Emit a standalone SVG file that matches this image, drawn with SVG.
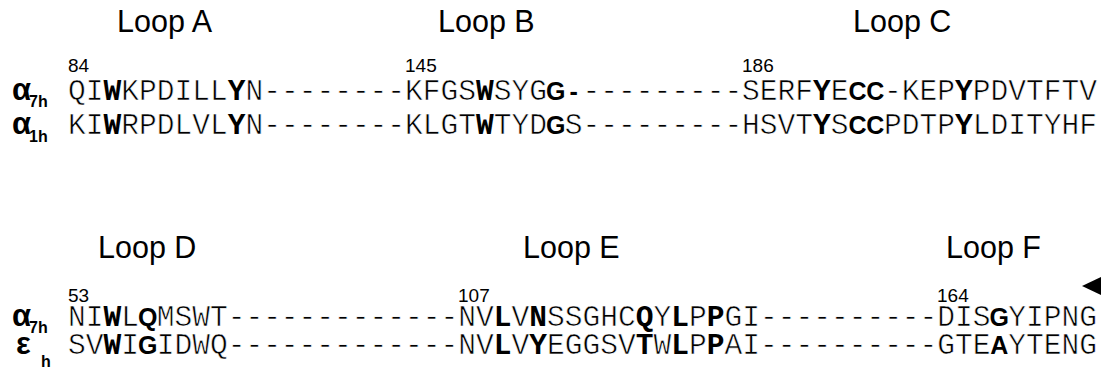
<svg xmlns="http://www.w3.org/2000/svg" width="1108" height="371" viewBox="0 0 1108 371">
<style>
.title{font-family:"Liberation Sans",Arial,sans-serif;font-size:30.5px;fill:#000}
.num{font-family:"Liberation Sans",Arial,sans-serif;font-size:19px;fill:#000}
.seq{font-family:"Liberation Mono","Courier New",monospace;font-size:29.57px;fill:#000;stroke:#fff;stroke-width:0.6px}
.b{font-weight:bold;stroke:none}
.bs{font-family:"Liberation Sans",Arial,sans-serif;font-size:25px;font-weight:bold;fill:#000;text-anchor:middle}
.gr{font-family:"Liberation Sans",Arial,sans-serif;font-size:31px;font-weight:bold;fill:#000}
.sub{font-family:"Liberation Sans",Arial,sans-serif;font-size:16px;font-weight:bold;fill:#000}
</style>
<rect width="1108" height="371" fill="#fff"/>
<g id="titles">
<text class="title" x="117" y="32">Loop A</text>
<text class="title" x="438" y="32">Loop B</text>
<text class="title" x="853" y="32">Loop C</text>
<text class="title" x="98" y="258">Loop D</text>
<text class="title" x="523" y="258">Loop E</text>
<text class="title" x="946" y="258">Loop F</text>
</g>
<g id="numbers">
<text class="num" x="68" y="72">84</text>
<text class="num" x="405" y="72">145</text>
<text class="num" x="742" y="72">186</text>
<text class="num" x="68" y="302">53</text>
<text class="num" x="458" y="302">107</text>
<text class="num" x="937" y="302">164</text>
</g>
<g id="species">
<text class="gr" x="12" y="100">α</text><text class="sub" x="29" y="107">7h</text>
<text class="gr" x="12" y="134">α</text><text class="sub" x="29" y="142">1h</text>
<text class="gr" x="12" y="326">α</text><text class="sub" x="29" y="333">7h</text>
<text class="gr" x="16" y="354">ε</text><text class="sub" x="41" y="367">h</text>
</g>
<g id="row1">
<text class="seq" x="68" y="100">QI<tspan class="b">W</tspan>KPDILL<tspan class="b">Y</tspan>N--------KFGS<tspan class="b">W</tspan>SYG</text>
<text class="bs" x="555.85" y="100">G</text>
<text class="bs" x="573.59" y="100">-</text>
<text class="seq" x="582.46" y="100">---------SERF<tspan class="b">Y</tspan>E</text>
<text class="bs" x="857.43" y="100">C</text>
<text class="bs" x="875.17" y="100">C</text>
<text class="seq" x="884.04" y="100">-KEP<tspan class="b">Y</tspan>PDVTFTV</text>
</g>
<g id="row2">
<text class="seq" x="68" y="134">KI<tspan class="b">W</tspan>RPDLVL<tspan class="b">Y</tspan>N--------KLGT<tspan class="b">W</tspan>TYD</text>
<text class="bs" x="555.85" y="134">G</text>
<text class="seq" x="564.72" y="134">S---------HSVT<tspan class="b">Y</tspan>S</text>
<text class="bs" x="857.43" y="134">C</text>
<text class="bs" x="875.17" y="134">C</text>
<text class="seq" x="884.04" y="134">PDTP<tspan class="b">Y</tspan>LDITYHF</text>
</g>
<g id="row3">
<text class="seq" x="68" y="326">NI<tspan class="b">W</tspan>L</text>
<text class="bs" x="147.83" y="326">Q</text>
<text class="seq" x="156.7" y="326">MSWT-------------NV<tspan class="b">L</tspan>V<tspan class="b">N</tspan>SSGHC<tspan class="b">Q</tspan>Y<tspan class="b">L</tspan>P<tspan class="b">P</tspan>GI----------DIS</text>
<text class="bs" x="999.35" y="326">G</text>
<text class="seq" x="1008.22" y="326">YIPNG</text>
</g>
<g id="row4">
<text class="seq" x="68" y="354">SV<tspan class="b">W</tspan>I</text>
<text class="bs" x="147.83" y="354">G</text>
<text class="seq" x="156.7" y="354">IDWQ-------------NV<tspan class="b">L</tspan>V<tspan class="b">Y</tspan>EGGSV<tspan class="b">T</tspan>W<tspan class="b">L</tspan>P<tspan class="b">P</tspan>AI----------GTE</text>
<text class="bs" x="999.35" y="354">A</text>
<text class="seq" x="1008.22" y="354">YTENG</text>
</g>
<g id="marker">
<polygon points="1082,286 1101,277 1101,295" fill="#000"/>
</g>
</svg>
